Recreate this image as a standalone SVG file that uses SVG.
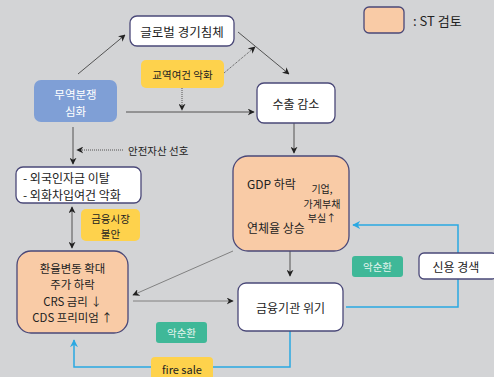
<svg xmlns="http://www.w3.org/2000/svg" width="494" height="377" viewBox="0 0 494 377">
<defs>
<style>
.t{font-family:"Noto Sans CJK KR","Noto Sans",sans-serif;fill:#222;}
.wb{fill:#fff;stroke:#4a4878;stroke-width:1.3;}
.pb{fill:#f9cba6;stroke:#4a4878;stroke-width:1.3;}
.yb{fill:#fed24c;}
.gb{fill:#3fb898;}
.ln{fill:none;stroke:#444;stroke-width:0.9;}
.lg{fill:none;stroke:#777;stroke-width:0.9;}
.dt{fill:none;stroke:#444;stroke-width:0.9;stroke-dasharray:1 1;}
.bl{fill:none;stroke:#2aa8e2;stroke-width:1.5;}
</style>
<marker id="ah" viewBox="0 0 10 10" refX="9" refY="5" markerWidth="7" markerHeight="7" orient="auto-start-reverse" markerUnits="userSpaceOnUse">
<path d="M0,0 L10,5 L0,10 L3,5 z" fill="#222"/>
</marker>
<marker id="ab" viewBox="0 0 10 10" refX="9" refY="5" markerWidth="8" markerHeight="8" orient="auto" markerUnits="userSpaceOnUse">
<path d="M0,0 L10,5 L0,10 L3,5 z" fill="#2aa8e2"/>
</marker>
</defs>
<rect width="494" height="377" fill="#d3d4d6"/>

<g id="connectors">
<path class="ln" d="M78,74 L125,35" marker-end="url(#ah)"/>
<path class="ln" d="M238,32 L289,74" marker-end="url(#ah)"/>
<path class="dt" d="M224,73 L255,47" marker-end="url(#ah)"/>
<path class="ln" d="M126,112 L254,112" marker-end="url(#ah)"/>
<path class="dt" d="M182,88 L182,110" marker-end="url(#ah)"/>
<path class="ln" d="M294,123 L294,153" marker-end="url(#ah)"/>
<path class="ln" d="M73,127 L73,164" marker-end="url(#ah)"/>
<path class="dt" d="M123,150 L77,150" marker-end="url(#ah)"/>
<path class="ln" d="M72,207 L72,248" marker-start="url(#ah)" marker-end="url(#ah)"/>
<path class="ln" d="M259,193 L259,213" marker-end="url(#ah)"/>
<path class="dt" d="M300,202 L265,202" marker-end="url(#ah)"/>
<path class="ln" d="M290,251 L290,276" marker-end="url(#ah)"/>
<path class="lg" d="M233,251 L133,295" marker-end="url(#ah)"/>
<path class="lg" d="M133,301 L233,301" marker-end="url(#ah)"/>
<path class="bl" d="M458,253 L458,225 L353,225" marker-end="url(#ab)"/>
<path class="bl" d="M458,279 L458,307 L346,307"/>
<path class="bl" d="M290,331 L290,367 L74,367 L74,340" marker-end="url(#ab)"/>
</g>

<g id="legend">
<rect class="pb" x="364" y="7" width="40" height="26" rx="5"/>
<text class="t" x="413" y="20" font-size="13" dominant-baseline="central">: ST 검토</text>
</g>

<g id="global">
<rect class="wb" x="130" y="16" width="104" height="30" rx="7"/>
<text class="t" x="182" y="31" font-size="12.5" text-anchor="middle" dominant-baseline="central">글로벌 경기침체</text>
</g>

<g id="trade-terms">
<rect class="yb" x="141" y="60" width="83" height="28" rx="5"/>
<text class="t" x="182.5" y="74" font-size="10.5" text-anchor="middle" dominant-baseline="central">교역여건 악화</text>
</g>

<g id="trade-dispute">
<rect x="34" y="80" width="83" height="42" rx="7" fill="#7f9fd6"/>
<text class="t" font-size="11.5" text-anchor="middle" dominant-baseline="central" style="fill:#fff"><tspan x="75.5" y="94">무역분쟁</tspan><tspan x="75.5" y="110.8">심화</tspan></text>
</g>

<g id="export">
<rect class="wb" x="257" y="83" width="78" height="40" rx="7"/>
<text class="t" x="296" y="103" font-size="12" text-anchor="middle" dominant-baseline="central">수출 감소</text>
</g>

<g id="safe-asset">
<text class="t" x="128" y="150" font-size="10.5" dominant-baseline="central">안전자산 선호</text>
</g>

<g id="foreign">
<rect class="wb" x="16" y="167" width="125" height="36" rx="7"/>
<text class="t" font-size="12" dominant-baseline="central"><tspan x="23" y="176.5">- 외국인자금 이탈</tspan><tspan x="23" y="194">- 외화차입여건 악화</tspan></text>
</g>

<g id="market-unrest">
<rect class="yb" x="81" y="209" width="59" height="32" rx="5"/>
<text class="t" font-size="10.5" text-anchor="middle" dominant-baseline="central"><tspan x="110.5" y="217.5">금융시장</tspan><tspan x="110.5" y="232.8">불안</tspan></text>
</g>

<g id="gdp">
<rect class="pb" x="233" y="156" width="116" height="95" rx="15"/>
<text class="t" x="247" y="183" font-size="12" dominant-baseline="central">GDP 하락</text>
<text class="t" x="247" y="227" font-size="12" dominant-baseline="central">연체율 상승</text>
<text class="t" font-size="10" text-anchor="middle" dominant-baseline="central"><tspan x="322" y="188">기업,</tspan><tspan x="322" y="202.6">가계부채</tspan><tspan x="322" y="217.2">부실↑</tspan></text>
</g>

<g id="fx">
<rect class="pb" x="17" y="251" width="111" height="82" rx="14"/>
<text class="t" font-size="11.4" text-anchor="middle" dominant-baseline="central"><tspan x="72.5" y="267.5">환율변동 확대</tspan><tspan x="72.5" y="284">주가 하락</tspan><tspan x="72.5" y="300.5">CRS 금리 ↓</tspan><tspan x="72.5" y="317">CDS 프리미엄 ↑</tspan></text>
</g>

<g id="fin-crisis">
<rect class="wb" x="238" y="283" width="105" height="48" rx="8"/>
<text class="t" x="290.5" y="307" font-size="12" text-anchor="middle" dominant-baseline="central">금융기관 위기</text>
</g>

<g id="credit-crunch">
<rect class="wb" x="419" y="253" width="78" height="26" rx="5"/>
<text class="t" x="456" y="266" font-size="12" text-anchor="middle" dominant-baseline="central">신용 경색</text>
</g>

<g id="vicious1">
<rect class="gb" x="352" y="256" width="51" height="21" rx="3"/>
<text class="t" x="377.5" y="266.5" font-size="10.5" text-anchor="middle" dominant-baseline="central" style="fill:#e6f5ef">악순환</text>
</g>

<g id="vicious2">
<rect class="gb" x="156" y="322" width="51" height="21" rx="3"/>
<text class="t" x="181.5" y="332.5" font-size="10.5" text-anchor="middle" dominant-baseline="central" style="fill:#e6f5ef">악순환</text>
</g>

<g id="fire-sale">
<rect class="yb" x="151" y="357" width="62" height="24" rx="4"/>
<text class="t" x="182" y="369" font-size="11" text-anchor="middle" dominant-baseline="central">fire sale</text>
</g>
</svg>
